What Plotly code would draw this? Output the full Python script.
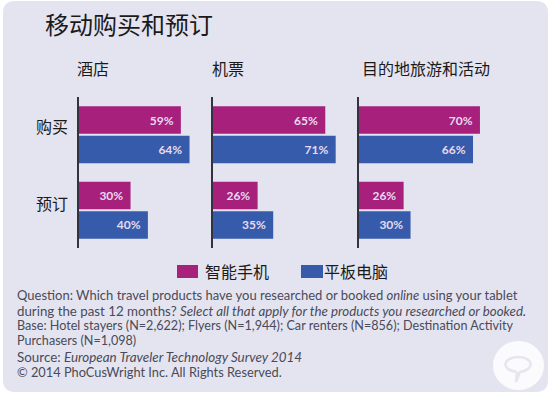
import plotly.graph_objects as go

panels = ["酒店", "机票", "目的地旅游和活动"]
rows = ["购买", "预订"]
series_names = ["智能手机", "平板电脑"]
phone = [[59, 30], [65, 26], [70, 26]]
tablet = [[64, 40], [71, 35], [66, 30]]
foot = [
    "Question: Which travel products have you researched or booked <i>online</i> using your tablet",
    "during the past 12 months? <i>Select all that apply for the products you researched or booked.</i>",
    "Base: Hotel stayers (N=2,622); Flyers (N=1,944); Car renters (N=856); Destination Activity",
    "Purchasers (N=1,098)",
    "Source: <i>European Traveler Technology Survey 2014</i>",
    "© 2014 PhoCusWright Inc. All Rights Reserved.",
]
foot_sizes = [13, 13.3, 12.6, 12.6, 13.4, 12.8]
MAG, BLUE = "#a6207c", "#375bab"
W, H = 550, 394
CJK = "Noto Sans CJK SC"
LAT = "Lato"
px = lambda x: x / W
py = lambda y: 1 - y / H

fig = go.Figure()
lefts = [78.5, 212.5, 358.5]
PW = 130
SCALE = 1.735
for i, left in enumerate(lefts):
    ax = "" if i == 0 else str(i + 1)
    for name, vals, col in ((series_names[0], phone[i], MAG), (series_names[1], tablet[i], BLUE)):
        fig.add_trace(go.Bar(
            y=rows, x=vals, orientation="h", name=name, marker=dict(color=col, line=dict(width=0)),
            text=[f"{v}%\u00a0\u2009" for v in vals], textposition="inside", insidetextanchor="end",
            textangle=0, constraintext="none",
            textfont=dict(family=LAT, size=12, color="#e6dcee", weight="bold"),
            xaxis="x" + ax, yaxis="y" + ax, showlegend=False, cliponaxis=False,
        ))
    fig.layout["xaxis" + ax] = dict(domain=[px(left), px(left + PW)], range=[0, PW / SCALE], visible=False, anchor="y" + ax)
    fig.layout["yaxis" + ax] = dict(domain=[py(248), py(97)], type="category", categoryorder="array", categoryarray=rows,
                                     range=[1.5, -0.5], anchor="x" + ax, showticklabels=False, ticks="",
                                     showgrid=False, zeroline=False, showline=True, linecolor="#33333f", linewidth=2)

def txt(x, y, s, size, color="#1a1a1a", family=CJK):
    fig.add_annotation(x=px(x), y=py(y), xref="paper", yref="paper", text=s, showarrow=False,
                       xanchor="left", yanchor="middle", align="left", font=dict(family=family, size=size, color=color))

txt(42.5, 23.5, "移动购买和预订", 24)
txt(75, 67.5, panels[0], 16)
txt(210, 67.5, panels[1], 16)
txt(360, 67.5, panels[2], 16)
txt(33.5, 126, rows[0], 16)
txt(33.5, 203, rows[1], 16)
txt(202.5, 270.5, series_names[0], 16)
txt(322, 270.5, series_names[1], 16)
for (y, s, sz) in zip([294.5, 310.5, 325.5, 340.5, 356.5, 371.5], foot, foot_sizes):
    txt(14.5, y, s, sz, "#4a4a58", LAT)

def rect(x0, y0, x1, y1, col):
    fig.add_shape(type="rect", xref="paper", yref="paper", x0=px(x0), x1=px(x1), y0=py(y0), y1=py(y1),
                  fillcolor=col, line_width=0, layer="above")
rect(177, 265, 198, 278, MAG)
rect(301, 265, 323, 278, BLUE)

# rounded background panel
l, t, r, b, c = 3, 1, 548, 392, 12
path = (f"M{px(l+c)},{py(t)} L{px(r-c)},{py(t)} Q{px(r)},{py(t)} {px(r)},{py(t+c)} L{px(r)},{py(b-c)} "
        f"Q{px(r)},{py(b)} {px(r-c)},{py(b)} L{px(l+c)},{py(b)} Q{px(l)},{py(b)} {px(l)},{py(b-c)} "
        f"L{px(l)},{py(t+c)} Q{px(l)},{py(t)} {px(l+c)},{py(t)} Z")
fig.add_shape(type="path", path=path, xref="paper", yref="paper", fillcolor="#e4e4f0", line_width=0, layer="below")

# watermark
fig.add_shape(type="circle", xref="paper", yref="paper", x0=px(493), x1=px(544), y0=py(341), y1=py(390),
              fillcolor="#fbfbfd", line_width=0, layer="below")
fig.add_shape(type="path", xref="paper", yref="paper", layer="below", line=dict(color="#e6e6ee", width=2.5),
              path=(f"M{px(517)},{py(372)} C{px(500)},{py(370)} {px(503)},{py(357)} {px(518)},{py(357)} "
                    f"C{px(534)},{py(357)} {px(535)},{py(370)} {px(520)},{py(372)} L{px(516)},{py(382)} L{px(517)},{py(372)}"))

fig.update_layout(width=W, height=H, margin=dict(l=0, r=0, t=0, b=0), paper_bgcolor="white", plot_bgcolor="rgba(0,0,0,0)",
                  barmode="group", bargap=0.22, bargroupgap=0.07, showlegend=False)
fig.write_html("out.html", config={"displayModeBar": False},
               post_script="document.body.style.margin='0';document.body.style.overflow='hidden';")
